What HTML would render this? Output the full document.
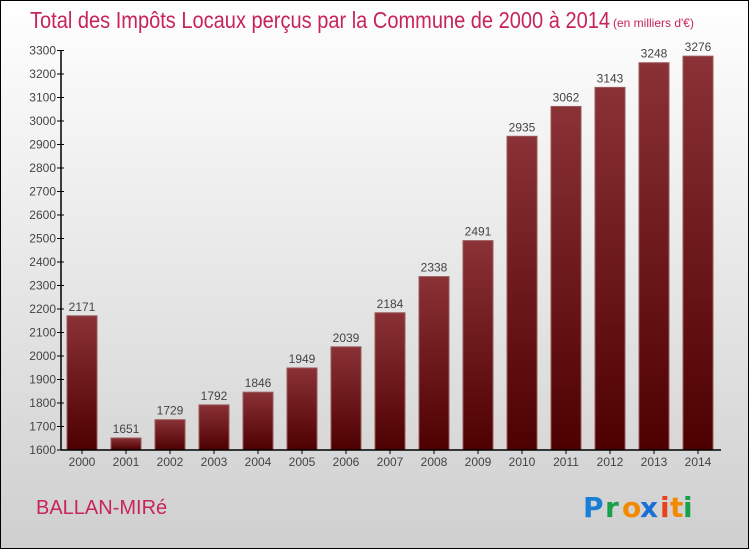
<!DOCTYPE html>
<html><head><meta charset="utf-8"><style>
body{margin:0;width:750px;height:550px;overflow:hidden;font-family:"Liberation Sans",sans-serif}
svg{display:block}
</style></head><body>
<svg id="c" width="750" height="550" xmlns="http://www.w3.org/2000/svg">
<defs>
<linearGradient id="bg" x1="0" y1="0" x2="0" y2="1"><stop offset="0" stop-color="#ffffff"/><stop offset="1" stop-color="#cfcfcf"/></linearGradient>
<linearGradient id="bar" x1="0" y1="0" x2="0" y2="1"><stop offset="0" stop-color="#8a3236"/><stop offset="1" stop-color="#4e0000"/></linearGradient>
</defs>
<rect x="0.5" y="0.5" width="748" height="548" fill="url(#bg)" stroke="#000"/>
<text x="30" y="28" font-size="23" fill="#c8245a" textLength="580" lengthAdjust="spacingAndGlyphs">Total des Impôts Locaux perçus par la Commune de 2000 à 2014</text>
<text x="613" y="27" font-size="12" fill="#c8245a">(en milliers d'€)</text>
<g id="bars"></g>
<g id="axes"></g>
<text x="36" y="514" font-size="20" fill="#c8245a">BALLAN-MIRé</text>
<g font-size="28" font-weight="bold" font-family="'DejaVu Sans',sans-serif">
<text x="583" y="517" fill="#1a7fd4">P</text><text x="605" y="517" fill="#1aa04a">r</text><text x="622" y="517" fill="#f28a00">o</text><text x="640" y="517" fill="#1a6fd4">x</text><text x="660" y="517" fill="#e8421a">i</text><text x="670" y="517" fill="#f28a00">t</text><text x="683" y="517" fill="#1aa04a">i</text>
</g>
</svg>
<script>
const years=[2000,2001,2002,2003,2004,2005,2006,2007,2008,2009,2010,2011,2012,2013,2014];
const values=[2171,1651,1729,1792,1846,1949,2039,2184,2338,2491,2935,3062,3143,3248,3276];
const yTicks=[1600,1700,1800,1900,2000,2100,2200,2300,2400,2500,2600,2700,2800,2900,3000,3100,3200,3300];
const NS="http://www.w3.org/2000/svg";
const y=v=>450-(v-1600)*(399.5/1700);
const x=i=>82+i*44;
function mk(t,a,p){const e=document.createElementNS(NS,t);for(const k in a)e.setAttribute(k,a[k]);p.appendChild(e);return e;}
const bars=document.getElementById('bars'),axes=document.getElementById('axes');
values.forEach((v,i)=>{
 const r=mk('rect',{x:x(i)-15,y:y(v),width:30,height:450-y(v),fill:'url(#bar)',stroke:'#9a5a5e','stroke-width':1},bars);
 
 
 const t=mk('text',{x:x(i),y:y(v)-5,'font-size':12,fill:'#444','text-anchor':'middle'},bars);
 t.textContent=v;
 
 
 const l=mk('text',{x:x(i),y:466,'font-size':12,fill:'#444','text-anchor':'middle'},axes);
 l.textContent=years[i];
 
 
 mk('line',{x1:x(i),x2:x(i),y1:450,y2:454,stroke:'#000'},axes);
});
yTicks.forEach(v=>{
 mk('line',{x1:57,x2:64,y1:y(v),y2:y(v),stroke:'#000'},axes);
 const t=mk('text',{x:56,y:y(v)+4,'font-size':12,fill:'#444','text-anchor':'end'},axes);
 t.textContent=v;
 
 
});
const ya=mk('line',{x1:61,x2:61,y1:y(3300),y2:450,stroke:'#000','stroke-width':1.5},axes);


const xa=mk('line',{x1:61,x2:721,y1:450,y2:450,stroke:'#000','stroke-width':1.5},axes);


</script>
</body></html>
